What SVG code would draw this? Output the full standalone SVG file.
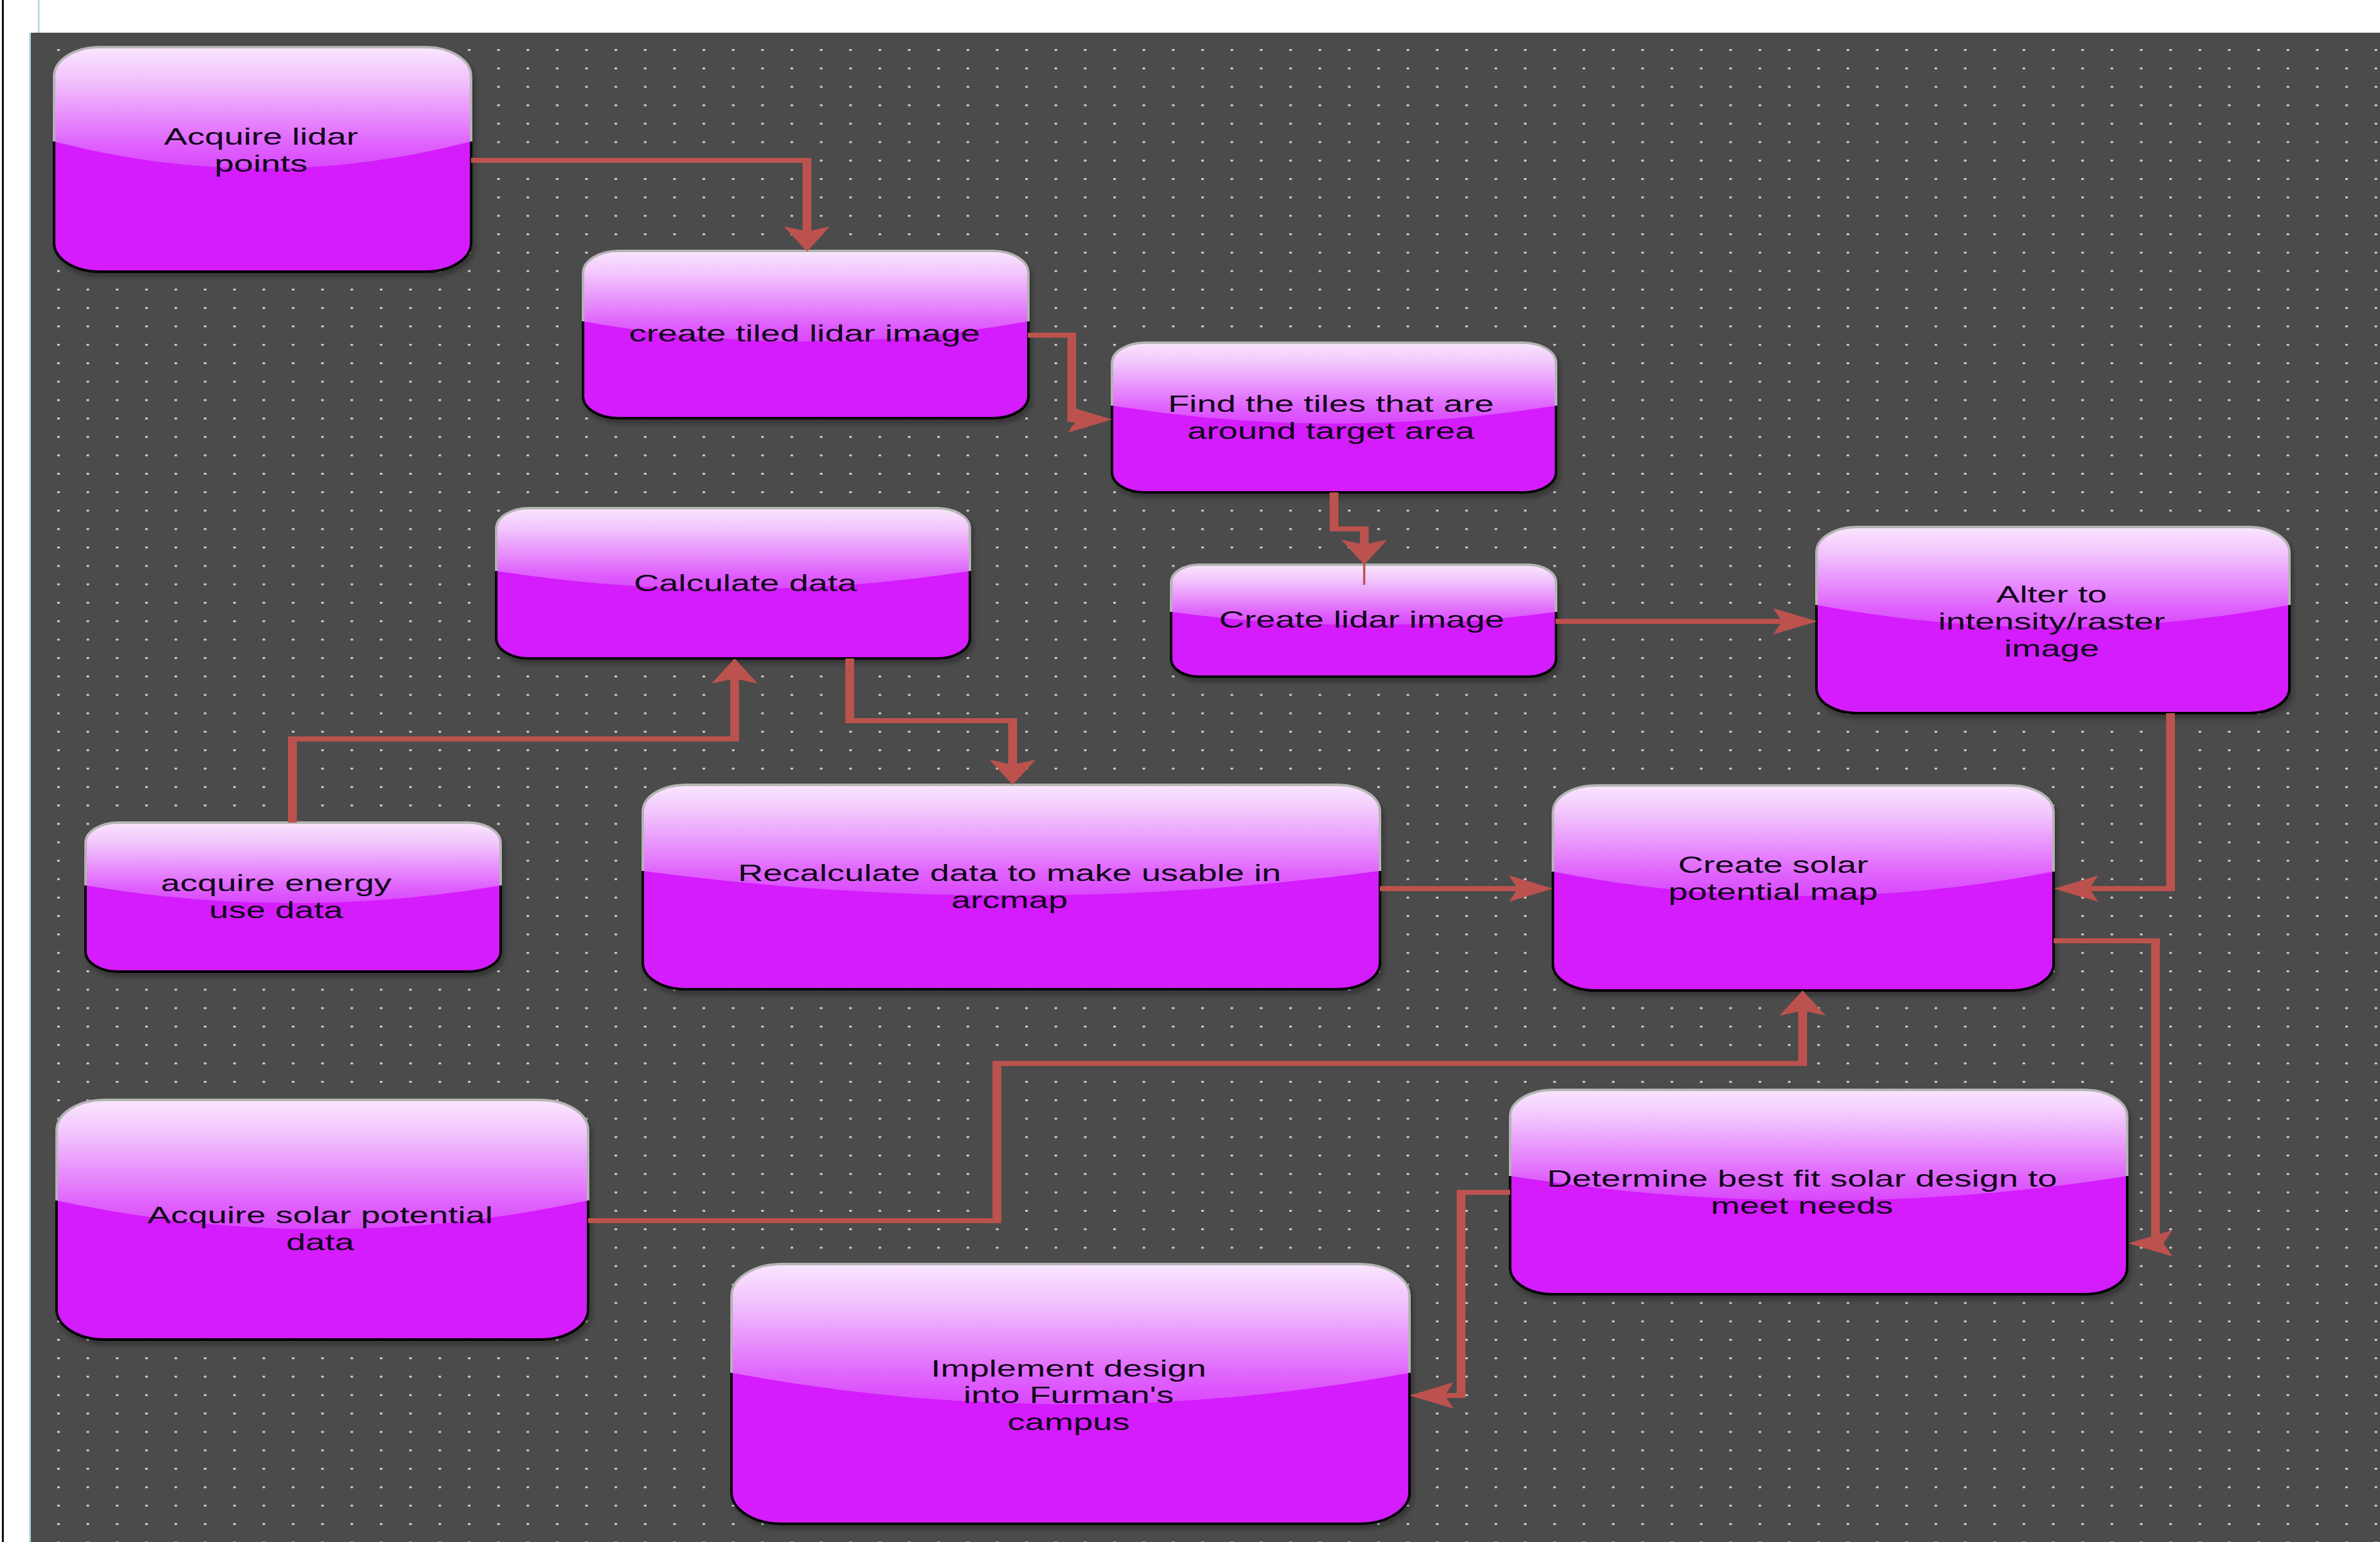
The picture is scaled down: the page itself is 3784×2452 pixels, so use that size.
<svg xmlns="http://www.w3.org/2000/svg" width="3784" height="2452" viewBox="0 0 3784 2452">
<defs>
<style>
.body{fill:#d41efc;stroke:#000;stroke-width:4;filter:url(#sh)}
.gloss{fill:url(#gl)}
.rim{fill:none;stroke:#b4b4b4;stroke-width:4}
.t{font-family:"Liberation Sans",Arial,sans-serif;font-size:37px;fill:#12041c;text-anchor:middle}
.c{fill:none;stroke:#bc524e;stroke-width:8;marker-end:url(#arr)}
</style>
<linearGradient id="gl" x1="0" y1="0" x2="0" y2="1">
<stop offset="0" stop-color="#fae6fe"/>
<stop offset="0.25" stop-color="#f2c6fd"/>
<stop offset="0.6" stop-color="#e688fc"/>
<stop offset="0.8" stop-color="#df62fc"/>
<stop offset="1" stop-color="#da48fc"/>
</linearGradient>
<filter id="sh" x="-5%" y="-5%" width="115%" height="125%">
<feGaussianBlur in="SourceAlpha" stdDeviation="4"/>
<feOffset dx="4" dy="7"/>
<feComponentTransfer><feFuncA type="linear" slope="0.3"/></feComponentTransfer>
<feMerge><feMergeNode/><feMergeNode in="SourceGraphic"/></feMerge>
</filter>
<pattern id="dots" patternUnits="userSpaceOnUse" x="91" y="78" width="46.64" height="29.3">
<rect x="0" y="0" width="4" height="3" fill="#d2d2d2"/>
</pattern>
<marker id="arr" markerUnits="userSpaceOnUse" viewBox="0 -22 42 44" refX="30" refY="0" markerWidth="42" markerHeight="44" orient="auto" overflow="visible">
<path d="M40,0 L0,-21 L8,0 L0,21 Z" fill="#bc524e"/>
</marker>
</defs>

<rect x="0" y="0" width="3784" height="2452" fill="#ffffff"/>
<rect x="3" y="0" width="3" height="2452" fill="#000"/>
<rect x="60" y="0" width="3" height="52" fill="#b4dfe3"/>
<rect x="46" y="52" width="3" height="2400" fill="#b4dfe3"/>
<rect x="49" y="52" width="3735" height="2400" fill="#4b4b4b"/>
<rect x="49" y="52" width="3735" height="2400" fill="url(#dots)"/>

<g id="n1">
<rect class="body" x="86" y="75" width="663" height="357" rx="72" ry="46"/>
<path class="gloss" d="M86,225 V121 A72,46 0 0 1 158,75 H677 A72,46 0 0 1 749,121 V225 Q417.5,311 86,225 Z"/>
<path class="rim" d="M86,225 V121 A72,46 0 0 1 158,75 H677 A72,46 0 0 1 749,121 V225"/>
<text class="t" transform="translate(415 0) scale(1.5 1)"><tspan x="0" y="230">Acquire lidar</tspan><tspan x="0" y="273">points</tspan></text>
</g>

<g id="n2">
<rect class="body" x="927" y="399" width="708" height="266" rx="56" ry="35"/>
<path class="gloss" d="M927,511 V434 A56,35 0 0 1 983,399 H1579 A56,35 0 0 1 1635,434 V511 Q1281,575 927,511 Z"/>
<path class="rim" d="M927,511 V434 A56,35 0 0 1 983,399 H1579 A56,35 0 0 1 1635,434 V511"/>
<text class="t" transform="translate(1279 0) scale(1.5 1)"><tspan x="0" y="543">create tiled lidar image</tspan></text>
</g>

<g id="n3">
<rect class="body" x="1768" y="545" width="706" height="238" rx="52" ry="32"/>
<path class="gloss" d="M1768,645 V577 A52,32 0 0 1 1820,545 H2422 A52,32 0 0 1 2474,577 V645 Q2121,702 1768,645 Z"/>
<path class="rim" d="M1768,645 V577 A52,32 0 0 1 1820,545 H2422 A52,32 0 0 1 2474,577 V645"/>
<text class="t" transform="translate(2116 0) scale(1.5 1)"><tspan x="0" y="655">Find the tiles that are</tspan><tspan x="0" y="698">around target area</tspan></text>
</g>

<g id="n4">
<rect class="body" x="1862" y="898" width="612" height="178" rx="44" ry="28"/>
<path class="gloss" d="M1862,973 V926 A44,28 0 0 1 1906,898 H2430 A44,28 0 0 1 2474,926 V973 Q2168,1015 1862,973 Z"/>
<path class="rim" d="M1862,973 V926 A44,28 0 0 1 1906,898 H2430 A44,28 0 0 1 2474,926 V973"/>
<text class="t" transform="translate(2165 0) scale(1.5 1)"><tspan x="0" y="998">Create lidar image</tspan></text>
</g>

<g id="n5">
<rect class="body" x="2888" y="838" width="752" height="296" rx="64" ry="40"/>
<path class="gloss" d="M2888,962 V878 A64,40 0 0 1 2952,838 H3576 A64,40 0 0 1 3640,878 V962 Q3264,1033 2888,962 Z"/>
<path class="rim" d="M2888,962 V878 A64,40 0 0 1 2952,838 H3576 A64,40 0 0 1 3640,878 V962"/>
<text class="t" transform="translate(3262 0) scale(1.5 1)"><tspan x="0" y="958">Alter to</tspan><tspan x="0" y="1001">intensity/raster</tspan><tspan x="0" y="1044">image</tspan></text>
</g>

<g id="n6">
<rect class="body" x="789" y="808" width="753" height="239" rx="52" ry="32"/>
<path class="gloss" d="M789,908 V840 A52,32 0 0 1 841,808 H1490 A52,32 0 0 1 1542,840 V908 Q1165.5,966 789,908 Z"/>
<path class="rim" d="M789,908 V840 A52,32 0 0 1 841,808 H1490 A52,32 0 0 1 1542,840 V908"/>
<text class="t" transform="translate(1185 0) scale(1.5 1)"><tspan x="0" y="940">Calculate data</tspan></text>
</g>

<g id="n7">
<rect class="body" x="136" y="1308" width="660" height="237" rx="52" ry="32"/>
<path class="gloss" d="M136,1408 V1340 A52,32 0 0 1 188,1308 H744 A52,32 0 0 1 796,1340 V1408 Q466,1464 136,1408 Z"/>
<path class="rim" d="M136,1408 V1340 A52,32 0 0 1 188,1308 H744 A52,32 0 0 1 796,1340 V1408"/>
<text class="t" transform="translate(439 0) scale(1.5 1)"><tspan x="0" y="1417">acquire energy</tspan><tspan x="0" y="1460">use data</tspan></text>
</g>

<g id="n8">
<rect class="body" x="1022" y="1248" width="1172" height="325" rx="68" ry="42"/>
<path class="gloss" d="M1022,1385 V1290 A68,42 0 0 1 1090,1248 H2126 A68,42 0 0 1 2194,1290 V1385 Q1608,1463 1022,1385 Z"/>
<path class="rim" d="M1022,1385 V1290 A68,42 0 0 1 1090,1248 H2126 A68,42 0 0 1 2194,1290 V1385"/>
<text class="t" transform="translate(1605 0) scale(1.5 1)"><tspan x="0" y="1401">Recalculate data to make usable in</tspan><tspan x="0" y="1444">arcmap</tspan></text>
</g>

<g id="n9">
<rect class="body" x="2469" y="1249" width="796" height="326" rx="68" ry="42"/>
<path class="gloss" d="M2469,1386 V1291 A68,42 0 0 1 2537,1249 H3197 A68,42 0 0 1 3265,1291 V1386 Q2867,1464 2469,1386 Z"/>
<path class="rim" d="M2469,1386 V1291 A68,42 0 0 1 2537,1249 H3197 A68,42 0 0 1 3265,1291 V1386"/>
<text class="t" transform="translate(2819 0) scale(1.5 1)"><tspan x="0" y="1388">Create solar</tspan><tspan x="0" y="1431">potential map</tspan></text>
</g>

<g id="n10">
<rect class="body" x="90" y="1749" width="845" height="381" rx="76" ry="48"/>
<path class="gloss" d="M90,1909 V1797 A76,48 0 0 1 166,1749 H859 A76,48 0 0 1 935,1797 V1909 Q512.5,2000 90,1909 Z"/>
<path class="rim" d="M90,1909 V1797 A76,48 0 0 1 166,1749 H859 A76,48 0 0 1 935,1797 V1909"/>
<text class="t" transform="translate(509 0) scale(1.5 1)"><tspan x="0" y="1945">Acquire solar potential</tspan><tspan x="0" y="1988">data</tspan></text>
</g>

<g id="n11">
<rect class="body" x="2401" y="1733" width="981" height="325" rx="68" ry="42"/>
<path class="gloss" d="M2401,1870 V1775 A68,42 0 0 1 2469,1733 H3314 A68,42 0 0 1 3382,1775 V1870 Q2891.5,1948 2401,1870 Z"/>
<path class="rim" d="M2401,1870 V1775 A68,42 0 0 1 2469,1733 H3314 A68,42 0 0 1 3382,1775 V1870"/>
<text class="t" transform="translate(2865 0) scale(1.5 1)"><tspan x="0" y="1887">Determine best fit solar design to</tspan><tspan x="0" y="1930">meet needs</tspan></text>
</g>

<g id="n12">
<rect class="body" x="1163" y="2010" width="1078" height="413" rx="80" ry="50"/>
<path class="gloss" d="M1163,2183 V2060 A80,50 0 0 1 1243,2010 H2161 A80,50 0 0 1 2241,2060 V2183 Q1702,2283 1163,2183 Z"/>
<path class="rim" d="M1163,2183 V2060 A80,50 0 0 1 1243,2010 H2161 A80,50 0 0 1 2241,2060 V2183"/>
<text class="t" transform="translate(1699 0) scale(1.5 1)"><tspan x="0" y="2189">Implement design</tspan><tspan x="0" y="2231">into Furman's</tspan><tspan x="0" y="2274">campus</tspan></text>
</g>

<g id="connectors" transform="scale(1.75 1)">
<path class="c" d="M428,255 H733.14 V390"/>
<path class="c" d="M933.71,533 H973.71 V667 H1000.29"/>
<path class="c" d="M1212,783 V841 H1239.43 V888"/>
<path d="M1239.43,896 V930" stroke="#bc524e" stroke-width="2" fill="none"/>
<path class="c" d="M1413.14,988 H1640.86"/>
<path class="c" d="M1972,1134 V1413 H1876.29"/>
<path class="c" d="M265.71,1308 V1175 H667.43 V1057"/>
<path class="c" d="M772,1047 V1146 H920 V1238"/>
<path class="c" d="M1253.71,1413 H1400.86"/>
<path class="c" d="M534.29,1941 H905.71 V1691 H1637.71 V1585"/>
<path class="c" d="M1865.71,1496 H1958.29 V1977 H1943.71"/>
<path class="c" d="M1372,1896 H1327.43 V2219 H1290.57"/>
</g>
</svg>
